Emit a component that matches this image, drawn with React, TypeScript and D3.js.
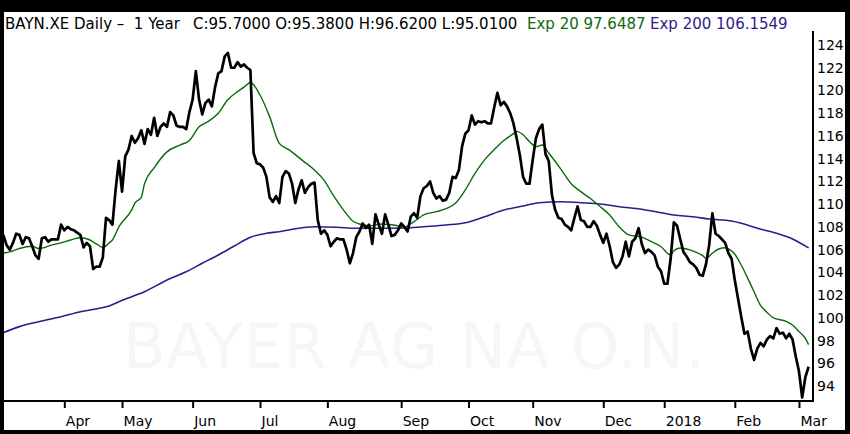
import React, { useEffect, useRef } from "react";
import * as d3 from "d3";

// Month labels and the trading-day index where each month starts
const monthLabels = ["Apr", "May", "Jun", "Jul", "Aug", "Sep", "Oct", "Nov", "Dec", "2018", "Feb", "Mar"];
const monthStartDay = [19, 37, 59, 80, 101, 124, 145, 165, 187, 206, 228, 248];

// Price axis labels
const priceTicks = [94, 96, 98, 100, 102, 104, 106, 108, 110, 112, 114, 116, 118, 120, 122, 124];

// Daily closes, one per trading day (Mar 2017 - Mar 2018)
const closes = [
  107.3, 106.4, 106.0, 106.6, 107.4, 107.3, 106.5, 107.1, 107.0, 106.3,
  105.5, 105.2, 107.0, 107.1, 106.7, 106.9, 106.9, 106.9, 108.2, 107.7,
  108.0, 107.8, 107.7, 107.5, 107.3, 106.2, 106.6, 106.3, 104.3, 104.5,
  104.5, 105.3, 108.8, 108.6, 108.2, 111.3, 113.8, 111.1, 114.2, 114.8,
  116.0, 115.4, 115.8, 116.5, 115.3, 116.6, 116.1, 117.6, 116.0, 116.8,
  117.1, 116.8, 118.1, 117.8, 116.9, 116.8, 116.8, 116.6, 118.1, 119.2,
  121.7, 119.2, 117.9, 118.9, 119.2, 118.6, 120.3, 121.5, 121.7, 123.0,
  123.3, 122.0, 122.0, 122.5, 122.1, 122.3, 122.0, 121.8, 114.5, 113.6,
  113.5, 113.2, 112.4, 110.6, 110.2, 110.7, 110.1, 112.4, 112.9, 112.7,
  111.8, 110.1, 111.3, 112.1, 111.0, 111.5, 111.8, 111.9, 108.6, 107.4,
  107.7, 107.3, 106.3, 106.7, 107.0, 106.9, 106.9, 106.0, 104.8, 105.7,
  107.1, 107.6, 108.3, 107.9, 108.2, 106.5, 109.1, 108.2, 107.4, 109.1,
  108.2, 107.2, 107.3, 107.7, 108.3, 108.0, 107.6, 108.9, 109.2, 108.8,
  110.7, 111.4, 111.6, 112.0, 111.0, 110.5, 110.7, 110.3, 110.4, 111.0,
  112.4, 112.3, 113.0, 115.1, 116.2, 116.5, 117.8, 117.0, 117.3, 117.2,
  117.3, 117.1, 117.1, 118.5, 119.8, 118.7, 119.0, 118.6, 118.0, 117.1,
  115.8, 114.3, 112.4, 111.8, 111.8, 113.9, 115.8, 116.6, 117.0, 114.4,
  113.8, 110.8, 109.5, 108.8, 108.7, 108.2, 108.0, 107.7, 108.8, 109.8,
  108.6, 108.5, 108.0, 108.0, 108.5, 108.1, 107.3, 106.6, 107.4, 106.3,
  104.9, 104.4, 104.7, 105.4, 106.7, 105.4, 106.7, 107.0, 107.9, 106.5,
  105.7, 106.0, 105.8, 105.5, 104.5, 104.1, 103.0, 103.0, 105.2, 108.4,
  108.1, 106.9, 105.8, 105.4, 104.9, 104.7, 104.4, 103.8, 103.7, 104.7,
  106.4, 109.2, 107.4, 107.2, 106.9, 106.6, 105.7, 105.2, 103.3, 101.7,
  100.1, 98.6, 98.8, 97.3, 96.3, 97.3, 97.8, 97.5, 98.1, 98.4,
  98.2, 99.1, 98.6, 98.7, 98.2, 98.6, 98.1, 96.6, 95.3, 93.0,
  94.8, 95.7,
];

// Exp 20 moving average, read at sampled trading days
const ema20Days = [
  0, 2, 5, 9, 11, 15, 18, 21, 24, 27, 29, 31, 33, 34, 36, 40, 41, 43, 44, 47,
  51, 55, 58, 61, 64, 67, 70, 73, 75, 77, 80, 83, 86, 89, 93, 97, 100, 103, 106, 109,
  111, 114, 118, 123, 125, 128, 131, 135, 138, 141, 144, 147, 150, 153, 156, 159, 160, 162, 164, 166,
  168, 170, 174, 177, 180, 183, 186, 189, 192, 195, 199, 202, 205, 208, 209, 211, 213, 216, 218, 219,
  221, 223, 225, 226, 228, 230, 232, 234, 236, 238, 240, 244, 246, 248, 250, 251,
];
const ema20Values = [
  105.7, 105.8, 106.1, 106.3, 106.1, 106.4, 106.6, 106.85, 107.05, 106.85, 106.5, 106.2, 106.6, 106.85, 108.0, 109.5, 110.1, 110.6, 111.8, 113.2,
  114.6, 115.2, 115.6, 116.8, 117.3, 118.0, 119.2, 119.9, 120.3, 120.7, 119.6, 117.7, 115.35, 114.8, 113.9, 113.0, 112.1, 110.7, 109.5, 108.5,
  108.26, 108.1, 108.26, 108.1, 108.0, 108.46, 109.05, 109.34, 109.6, 110.1, 111.25, 112.7, 113.9, 114.8, 115.6, 116.2, 116.4, 116.1, 115.5, 115.06,
  115.2, 114.5, 113.0, 111.8, 111.1, 110.5, 109.8, 109.05, 108.0, 107.3, 107.1, 106.7, 106.26, 105.53, 105.9, 106.15, 106.06, 105.76, 105.47, 105.24,
  105.68, 106.06, 106.17, 106.06, 105.6, 104.65, 103.5, 102.3, 101.1, 100.5, 100.0, 99.7, 99.37, 98.8, 98.2, 97.65,
];

// Exp 200 moving average, read at sampled trading days
const ema200Days = [
  0, 5, 11, 18, 24, 30, 33, 36, 40, 44, 51, 57, 62, 67, 72, 77, 82, 86, 89, 97,
  104, 110, 116, 125, 131, 138, 144, 150, 156, 162, 167, 174, 180, 186, 192, 199, 205, 209, 215, 220,
  227, 230, 235, 241, 246, 251,
];
const ema200Values = [
  98.7, 99.23, 99.66, 100.1, 100.54, 100.84, 101.04, 101.42, 101.86, 102.3, 103.33, 104.06, 104.8, 105.53, 106.32, 107.09, 107.44, 107.58, 107.73, 108.02,
  107.97, 107.88, 107.88, 107.9, 108.02, 108.17, 108.37, 108.9, 109.49, 109.84, 110.13, 110.22, 110.13, 110.02, 109.78, 109.55, 109.25, 109.05, 108.9, 108.7,
  108.52, 108.32, 107.88, 107.44, 106.94, 106.15,
];

const GREEN = "#0c6a0c";
const PURPLE = "#2d1b8c";
const FONT = "'DejaVu Sans', Verdana, sans-serif";

const StockChart: React.FC = () => {
  const svgRef = useRef<SVGSVGElement | null>(null);

  useEffect(() => {
    if (!svgRef.current) return;
    const svg = d3.select(svgRef.current);
    svg.selectAll("*").remove();

    const width = 850;
    const height = 434;
    const plot = { left: 4, right: 813, top: 31, bottom: 401 };

    // frame
    svg.append("rect").attr("width", width).attr("height", height).attr("fill", "#000");
    svg
      .append("rect")
      .attr("x", 4)
      .attr("y", 12)
      .attr("width", 841)
      .attr("height", 418)
      .attr("fill", "#fff");

    // scales
    const x = d3.scaleLinear().domain([0, closes.length - 1]).range([3.35, 808.6]);
    const y = d3.scaleLinear().domain([94, 124]).range([386.1, 45]);

    // watermark
    svg
      .append("text")
      .attr("x", 123)
      .attr("y", 368)
      .attr("font-family", FONT)
      .attr("font-size", 62)
      .attr("fill", "#f6f6f6")
      .attr("textLength", 582)
      .attr("lengthAdjust", "spacing")
      .text("BAYER AG NA O.N.");

    // clip for the series
    svg
      .append("clipPath")
      .attr("id", "plotClip")
      .append("rect")
      .attr("x", plot.left)
      .attr("y", plot.top)
      .attr("width", plot.right - plot.left)
      .attr("height", plot.bottom - plot.top);

    const series = svg.append("g").attr("clip-path", "url(#plotClip)");

    const smooth = d3.line<number>().curve(d3.curveMonotoneX);

    series
      .append("path")
      .attr("fill", "none")
      .attr("stroke", PURPLE)
      .attr("stroke-width", 1.6)
      .attr("d", smooth.x((_, i) => x(ema200Days[i])).y((d) => y(d))(ema200Values));

    series
      .append("path")
      .attr("fill", "none")
      .attr("stroke", GREEN)
      .attr("stroke-width", 1.4)
      .attr("d", smooth.x((_, i) => x(ema20Days[i])).y((d) => y(d))(ema20Values));

    const priceLine = d3
      .line<number>()
      .x((_, i) => x(i))
      .y((d) => y(d));

    series
      .append("path")
      .attr("fill", "none")
      .attr("stroke", "#000")
      .attr("stroke-width", 2.7)
      .attr("stroke-linejoin", "round")
      .attr("d", priceLine(closes));

    // bottom axis
    const xAxis = d3
      .axisBottom(x)
      .tickValues(monthStartDay)
      .tickSize(7)
      .tickSizeOuter(0)
      .tickFormat((_, i) => monthLabels[i]);

    const xg = svg.append("g").attr("transform", `translate(0, ${plot.bottom})`).call(xAxis);
    xg.select(".domain").remove();
    xg.selectAll(".tick line").attr("stroke", "#000").attr("stroke-width", 2);
    xg.selectAll(".tick text")
      .attr("text-anchor", "start")
      .attr("x", 1)
      .attr("y", 25)
      .attr("dy", 0)
      .attr("fill", "#000")
      .attr("font-family", FONT)
      .attr("font-size", 14);

    // right axis
    const yAxis = d3.axisRight(y).tickValues(priceTicks).tickSize(0).tickPadding(4);
    const yg = svg.append("g").attr("transform", `translate(${plot.right}, 0)`).call(yAxis);
    yg.select(".domain").remove();
    yg.selectAll(".tick text")
      .attr("fill", "#000")
      .attr("font-family", FONT)
      .attr("font-size", 14);

    // axis lines
    svg
      .append("line")
      .attr("x1", plot.left)
      .attr("x2", plot.right)
      .attr("y1", plot.bottom)
      .attr("y2", plot.bottom)
      .attr("stroke", "#000")
      .attr("stroke-width", 2);
    svg
      .append("line")
      .attr("x1", plot.right)
      .attr("x2", plot.right)
      .attr("y1", plot.top)
      .attr("y2", plot.bottom + 1)
      .attr("stroke", "#000")
      .attr("stroke-width", 2);

    // header
    const header = svg.append("g").attr("font-family", FONT).attr("font-size", 15);
    header
      .append("text")
      .attr("x", 5)
      .attr("y", 29)
      .attr("fill", "#000")
      .text("BAYN.XE Daily \u2013\u00a0\u00a01 Year");
    header
      .append("text")
      .attr("x", 193)
      .attr("y", 29)
      .attr("fill", "#000")
      .text("C:95.7000 O:95.3800 H:96.6200 L:95.0100");
    header.append("text").attr("x", 527).attr("y", 29).attr("fill", GREEN).text("Exp 20 97.6487");
    header.append("text").attr("x", 650).attr("y", 29).attr("fill", PURPLE).text("Exp 200 106.1549");
  }, []);

  return (
    <div style={{ position: "absolute", left: 0, top: 0 }}>
      <svg ref={svgRef} width={850} height={434} style={{ display: "block" }} />
    </div>
  );
};

export default function App() {
  return <StockChart />;
}
